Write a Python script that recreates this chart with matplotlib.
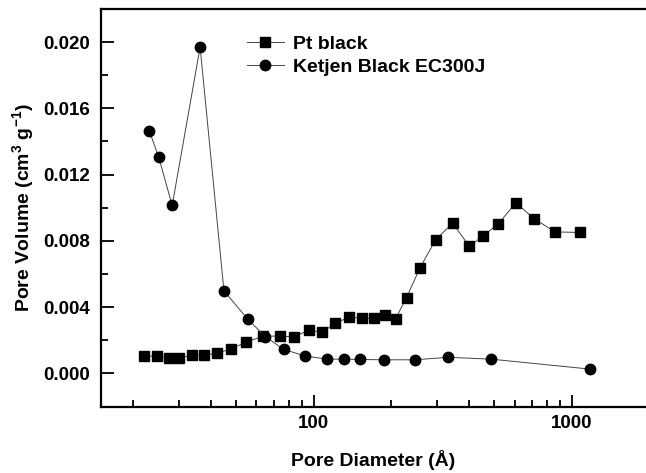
import matplotlib
matplotlib.use("Agg")
import matplotlib.pyplot as plt
from matplotlib.ticker import FixedLocator, LogLocator, NullFormatter, MultipleLocator, FormatStrFormatter

plt.rcParams["font.family"] = ["Liberation Sans", "DejaVu Sans"]
plt.rcParams["font.weight"] = "bold"
plt.rcParams["mathtext.fontset"] = "custom"
plt.rcParams["mathtext.rm"] = "Liberation Sans:bold"
plt.rcParams["mathtext.bf"] = "Liberation Sans:bold"
plt.rcParams["mathtext.default"] = "rm"

# ---- data ----
pt_d = [22.1, 24.7, 27.4, 30.2, 33.8, 37.7, 42.2, 47.6, 54.5, 63.6, 73.8, 83.9,
        95.7, 107.9, 120.6, 136.6, 153.1, 170.4, 188.9, 207.3, 228.7, 257.5,
        296.3, 344.8, 400.3, 453.2, 519.0, 606.7, 714.6, 859.7, 1071.0]
pt_v = [0.00104, 0.00104, 0.00094, 0.00094, 0.00109, 0.00109, 0.00122, 0.00147,
        0.00187, 0.00225, 0.00225, 0.00221, 0.00261, 0.00247, 0.00302, 0.00338,
        0.00334, 0.00332, 0.00354, 0.00329, 0.00458, 0.00635, 0.00806, 0.00907,
        0.00768, 0.00830, 0.00904, 0.01030, 0.00933, 0.00854, 0.00851]

kb_d = [23.1, 25.1, 28.3, 36.3, 44.9, 55.6, 65.0, 76.5, 92.9, 113.0, 130.6,
        151.6, 186.3, 245.6, 332.5, 485.5, 1171.0]
kb_v = [0.01462, 0.01305, 0.01014, 0.01970, 0.00498, 0.00326, 0.00221, 0.00145,
        0.00104, 0.00086, 0.00086, 0.00084, 0.00082, 0.00082, 0.00097, 0.00086,
        0.00026]

labels = ["Pt black", "Ketjen Black EC300J"]

fig = plt.figure(figsize=(6.46, 4.73), dpi=100)
ax = fig.add_axes([101 / 646, 1 - 406.5 / 473, 1 - 101 / 646, (406.5 - 9) / 473])

ax.plot(pt_d, pt_v, color="#444444", lw=0.7, marker="s", ms=6.5,
        mfc="black", mec="black", label=labels[0])
ax.plot(kb_d, kb_v, color="#444444", lw=0.7, marker="o", ms=7.5,
        mfc="black", mec="black", label=labels[1])

ax.set_xscale("log")
ax.set_xlim(15, 1935)
ax.set_ylim(-0.002, 0.022)

ax.xaxis.set_major_locator(FixedLocator([100, 1000]))
ax.xaxis.set_major_formatter(FormatStrFormatter("%d"))
ax.xaxis.set_minor_locator(LogLocator(base=10, subs=range(2, 10)))
ax.xaxis.set_minor_formatter(NullFormatter())
ax.yaxis.set_major_locator(MultipleLocator(0.004))
ax.yaxis.set_minor_locator(MultipleLocator(0.002))
ax.yaxis.set_major_formatter(FormatStrFormatter("%.3f"))

ax.tick_params(which="both", direction="in", width=1.3, labelsize=13.5, pad=6)
ax.tick_params(which="major", length=9)
ax.tick_params(which="minor", length=5)
ax.tick_params(axis="y", pad=8)

for s in ["left", "bottom", "top"]:
    ax.spines[s].set_linewidth(1.6)
ax.spines["right"].set_visible(False)

ax.set_xlabel("Pore Diameter (Å)", fontsize=14, fontweight="bold", labelpad=13)
ax.set_ylabel("Pore Volume (cm$^{3}$ g$^{-1}$)", fontsize=14, fontweight="bold", labelpad=5)

ax.legend(loc="upper left", bbox_to_anchor=(247 / 646, 1 - 35 / 473),
          bbox_transform=fig.transFigure, frameon=False, fontsize=14,
          borderpad=0, borderaxespad=0, handlelength=1.9, handletextpad=0.45,
          labelspacing=0.28)

fig.savefig("out.png", dpi=100)
